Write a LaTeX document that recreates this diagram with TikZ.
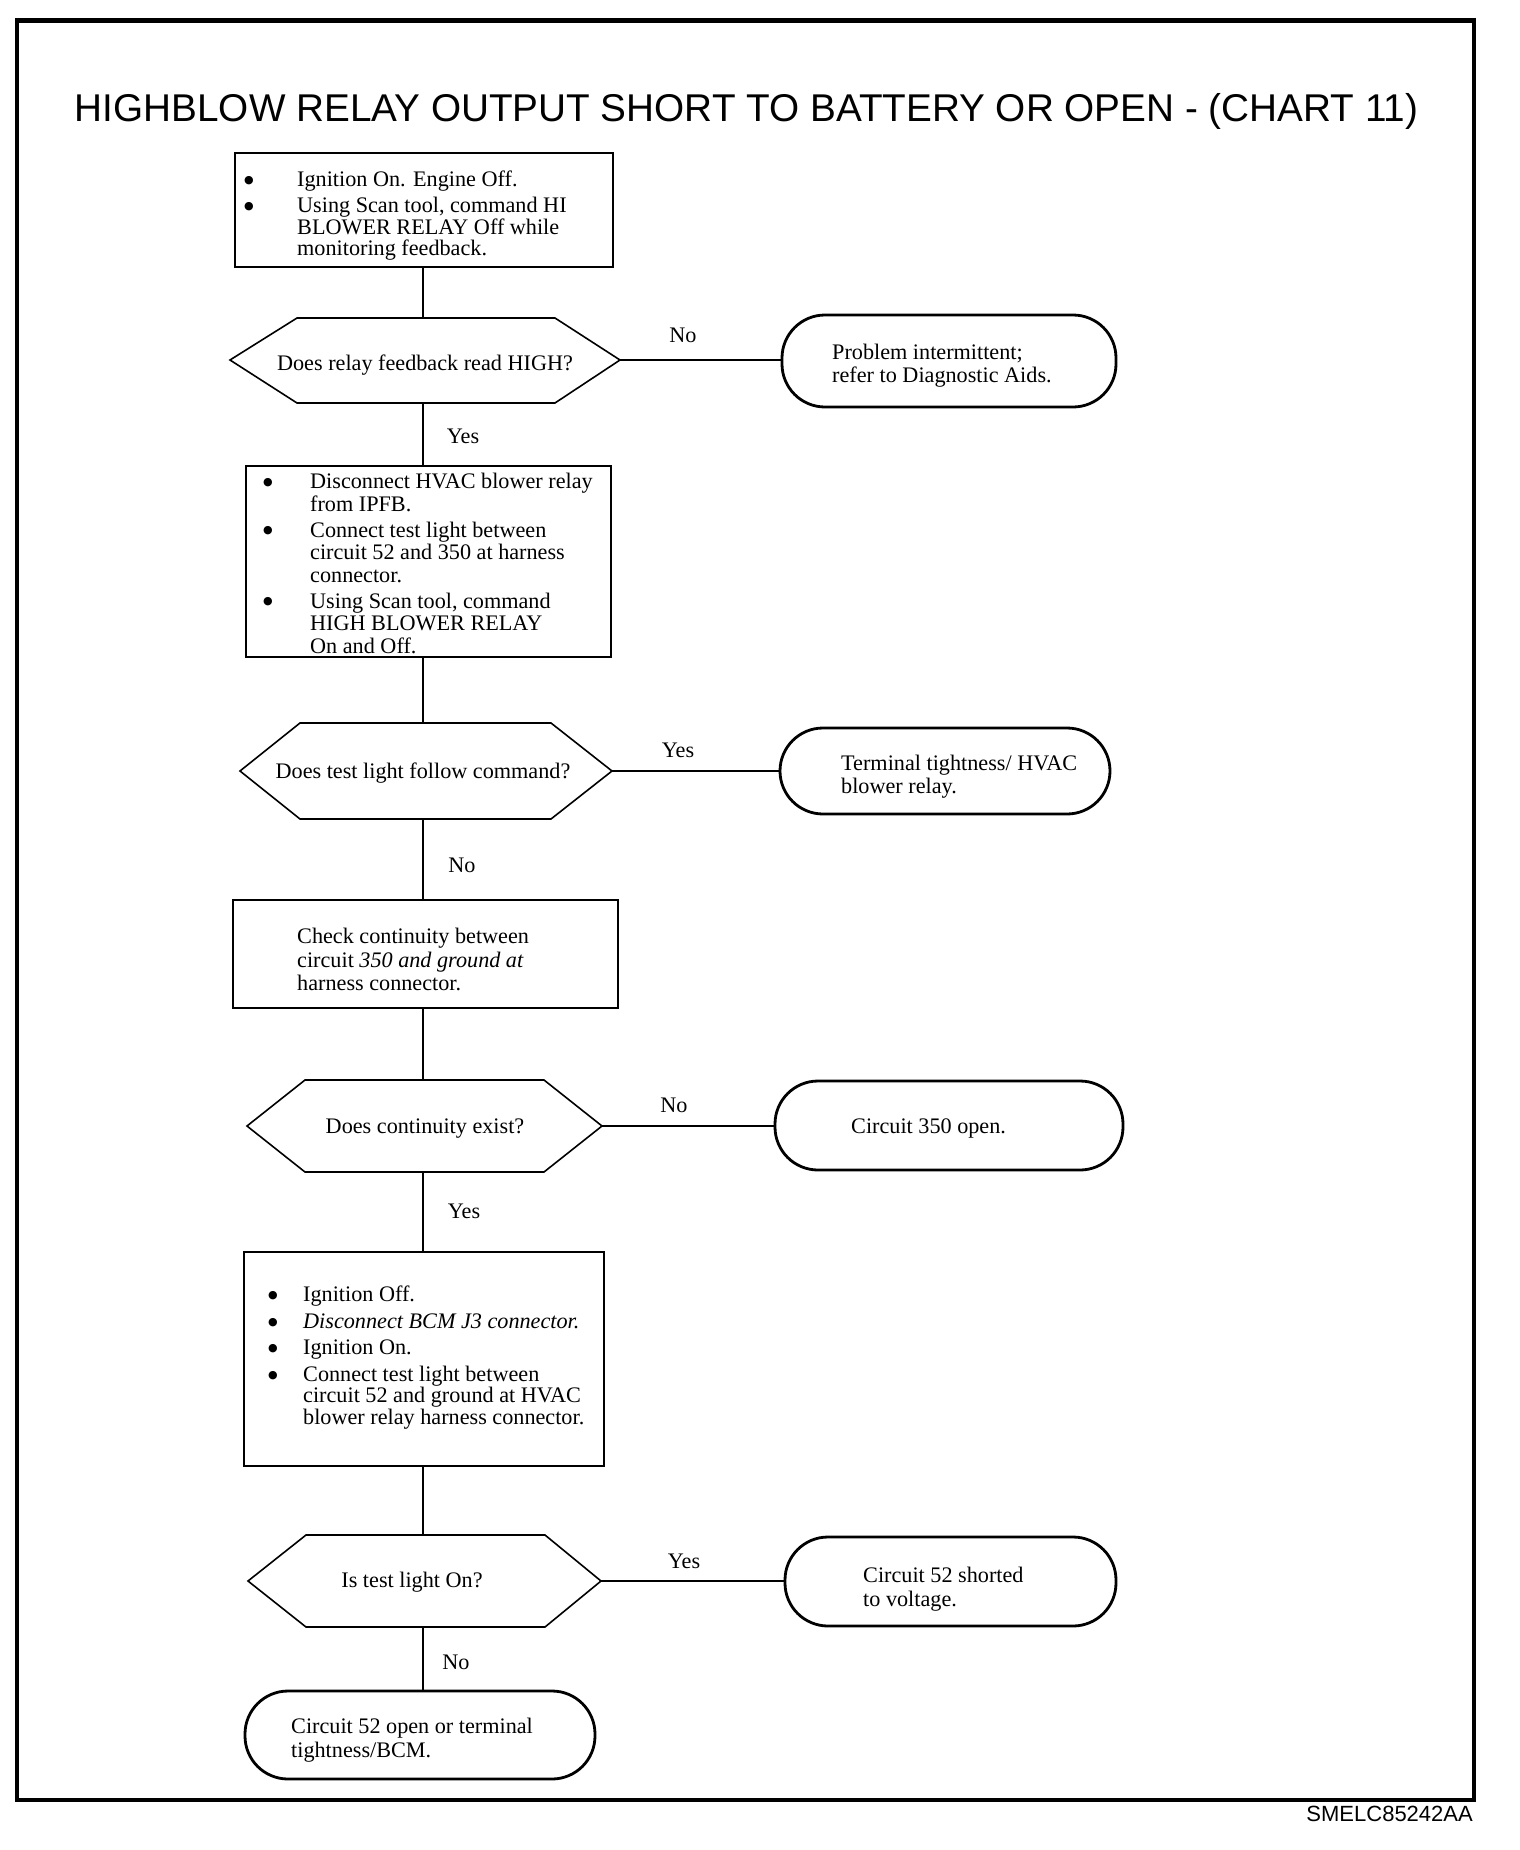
\documentclass[tikz,border=0pt]{standalone}
\usepackage{fontspec}
\setmainfont{Liberation Serif}
\newfontfamily\hfont{Liberation Sans}
\newfontfamily\dvfont{DejaVu Sans}
\newcommand\itm[1]{\makebox[#1][l]{\raisebox{3.2pt}{\dvfont\fontsize{11}{11}\selectfont ●}}}
\begin{document}
\begin{tikzpicture}[x=1pt,y=-1pt,
  frameline/.style={line width=4.5pt},
  box/.style={draw, line width=1.6pt, inner sep=0pt},
  term/.style={draw, line width=2.8pt, rounded corners=43pt, inner sep=0pt},
  hexa/.style={draw, line width=1.6pt, line join=miter},
  conn/.style={draw, line width=1.5pt},
  txt/.style={inner sep=0pt, align=left, anchor=north west, font=\fontsize{22.2}{21.5}\selectfont},
  one/.style={inner sep=0pt, anchor=base, font=\fontsize{22.2}{22}\selectfont},
  lbl/.style={inner sep=0pt, anchor=base, font=\fontsize{22.2}{22}\selectfont},
]
\useasboundingbox (0,0) rectangle (1520,1850);
\draw[frameline] (17,20.5) rectangle (1474,1800);
\node[anchor=base, inner sep=0pt, font=\hfont\fontsize{38.7}{40}\selectfont] (title) at (746.5,121) {HIGHBLOW RELAY OUTPUT SHORT TO BATTERY OR OPEN - (CHART 11)};
\node[anchor=base east, inner sep=0pt, font=\hfont\fontsize{22}{22}\selectfont] (code) at (1473,1821) {SMELC85242AA};

% boxes
\node[box, minimum width=378pt, minimum height=114pt] (b1) at (424,210) {};
\node[box, minimum width=365pt, minimum height=191pt] (b2) at (428.5,561.5) {};
\node[box, minimum width=385pt, minimum height=108pt] (b3) at (425.5,954) {};
\node[box, minimum width=360pt, minimum height=214pt] (b4) at (424,1359) {};

\node[txt] (t1) at (244,171) {\itm{53pt}Ignition On. Engine Off.\\[4.5pt]
\itm{53pt}Using Scan tool, command HI\\
\hspace*{53pt}BLOWER RELAY Off while\\
\hspace*{53pt}monitoring feedback.};
\node[txt, font=\fontsize{22.2}{22.5}\selectfont] (t2) at (263,473) {\itm{47pt}Disconnect HVAC blower relay\\
\hspace*{47pt}from IPFB.\\[3.5pt]
\itm{47pt}Connect test light between\\
\hspace*{47pt}circuit 52 and 350 at harness\\
\hspace*{47pt}connector.\\[3.5pt]
\itm{47pt}Using Scan tool, command\\
\hspace*{47pt}HIGH BLOWER RELAY\\
\hspace*{47pt}On and Off.};
\node[txt, font=\fontsize{22.2}{23.5}\selectfont] (t3) at (297,928) {Check continuity between\\
circuit \textit{350 and ground at}\\
harness connector.};
\node[txt, font=\fontsize{22.2}{21.5}\selectfont] (t4) at (268,1286) {\itm{35pt}Ignition Off.\\[5pt]
\itm{35pt}\textit{Disconnect BCM J3 connector.}\\[5pt]
\itm{35pt}Ignition On.\\[5pt]
\itm{35pt}Connect test light between\\
\hspace*{35pt}circuit 52 and ground at HVAC\\
\hspace*{35pt}blower relay harness connector.};

% hexagons
\draw[hexa] (230,360) coordinate (h1w) -- (297,318) -- (555,318) -- (620,360) coordinate (h1e) -- (555,403) -- (297,403) -- cycle;
\coordinate (h1n) at (423,318); \coordinate (h1s) at (423,403);
\draw[hexa] (240,771) coordinate (h2w) -- (300,723) -- (551,723) -- (612,771) coordinate (h2e) -- (551,819) -- (300,819) -- cycle;
\coordinate (h2n) at (423,723); \coordinate (h2s) at (423,819);
\draw[hexa] (247,1126) coordinate (h3w) -- (305,1080) -- (544,1080) -- (602,1126) coordinate (h3e) -- (544,1172) -- (305,1172) -- cycle;
\coordinate (h3n) at (423,1080); \coordinate (h3s) at (423,1172);
\draw[hexa] (248,1581) coordinate (h4w) -- (306,1535) -- (545,1535) -- (601,1581) coordinate (h4e) -- (545,1627) -- (306,1627) -- cycle;
\coordinate (h4n) at (423,1535); \coordinate (h4s) at (423,1627);

\node[one] (q1) at (425,370) {Does relay feedback read HIGH?};
\node[one] (q2) at (423,778) {Does test light follow command?};
\node[one] (q3) at (425,1133) {Does continuity exist?};
\node[one] (q4) at (412,1587) {Is test light On?};

% terminals
\node[term, minimum width=334pt, minimum height=92pt] (e1) at (949,361) {};
\node[term, minimum width=330pt, minimum height=86pt] (e2) at (945,771) {};
\node[term, minimum width=348pt, minimum height=89pt] (e3) at (949,1125.5) {};
\node[term, minimum width=331pt, minimum height=89pt] (e4) at (950.5,1581.5) {};
\node[term, minimum width=350pt, minimum height=88pt] (e5) at (420,1735) {};

\node[txt, font=\fontsize{22.2}{23}\selectfont] (et1) at (832,344) {Problem intermittent;\\refer to Diagnostic Aids.};
\node[txt, font=\fontsize{22.2}{23}\selectfont] (et2) at (841,755) {Terminal tightness/ HVAC\\blower relay.};
\node[one, anchor=base west] (et3) at (851,1133) {Circuit 350 open.};
\node[txt, font=\fontsize{22.2}{24}\selectfont] (et4) at (863,1567) {Circuit 52 shorted\\to voltage.};
\node[txt, font=\fontsize{22.2}{23.5}\selectfont] (et5) at (291,1718) {Circuit 52 open or terminal\\tightness/BCM.};

% connectors
\draw[conn] (h1n |- b1.south) -- (h1n);
\draw[conn] (h1s) -- (h1s |- b2.north);
\draw[conn] (h2n |- b2.south) -- (h2n);
\draw[conn] (h2s) -- (h2s |- b3.north);
\draw[conn] (h3n |- b3.south) -- (h3n);
\draw[conn] (h3s) -- (h3s |- b4.north);
\draw[conn] (h4n |- b4.south) -- (h4n);
\draw[conn] (h4s) -- (h4s |- e5.north);
\draw[conn] (h1e) -- (h1e -| e1.west);
\draw[conn] (h2e) -- (h2e -| e2.west);
\draw[conn] (h3e) -- (h3e -| e3.west);
\draw[conn] (h4e) -- (h4e -| e4.west);

% labels
\node[lbl] (l1) at (683,342) {No};
\node[lbl] (l2) at (463,443) {Yes};
\node[lbl] (l3) at (678,757) {Yes};
\node[lbl] (l4) at (462,872) {No};
\node[lbl] (l5) at (674,1112) {No};
\node[lbl] (l6) at (464,1218) {Yes};
\node[lbl] (l7) at (684,1568) {Yes};
\node[lbl] (l8) at (456,1669) {No};
\end{tikzpicture}
\end{document}
